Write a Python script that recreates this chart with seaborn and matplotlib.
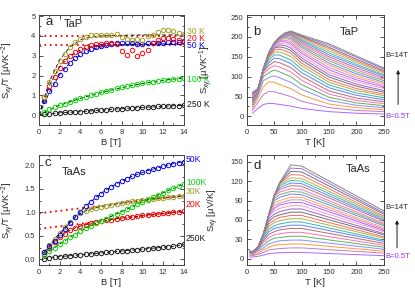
#!/usr/bin/env python3
"""Nernst signal of TaP / TaAs: S_xy/T vs B (a, c) and S_xy vs T (b, d)."""

import matplotlib

matplotlib.use("Agg")
import matplotlib.pyplot as plt
import pandas as pd
import seaborn as sns
from matplotlib.ticker import FormatStrFormatter, MultipleLocator

# field points for the scatter panels and the field list of the T sweeps
FIELDS = [0.5, 1.0, 1.5, 2.0, 2.5, 3.0, 3.5, 4.0, 4.5, 5.0, 5.5, 6.0, 6.5, 7.0,
          7.5, 8.0, 8.5, 9.0, 9.5, 10.0, 10.5, 11.0, 11.5, 12.0, 12.5, 13.0, 13.5, 14.0]

# ---- panel a: TaP, S_xy/T [uV K^-2]
TAP_250K = [0.05, 0.08, 0.10, 0.12, 0.14, 0.15, 0.17, 0.18, 0.20, 0.22, 0.24, 0.26, 0.28, 0.30,
            0.31, 0.33, 0.35, 0.36, 0.38, 0.39, 0.41, 0.42, 0.44, 0.45, 0.47, 0.48, 0.49, 0.50]
TAP_100K = [0.15, 0.30, 0.40, 0.50, 0.58, 0.66, 0.76, 0.85, 0.93, 1.00, 1.08, 1.15, 1.22, 1.28,
            1.35, 1.42, 1.47, 1.52, 1.57, 1.62, 1.66, 1.70, 1.74, 1.77, 1.80, 1.82, 1.85, 1.87]
TAP_50K = [0.70, 1.20, 1.60, 2.05, 2.35, 2.65, 2.90, 3.10, 3.25, 3.35, 3.42, 3.50, 3.55, 3.60,
           3.62, 3.62, 3.63, 3.62, 3.60, 3.60, 3.62, 3.62, 3.63, 3.65, 3.68, 3.70, 3.70, 3.72]
TAP_20K = [0.90, 1.45, 1.95, 2.40, 2.75, 3.00, 3.20, 3.35, 3.45, 3.55, 3.60, 3.60, 3.62, 3.65,
           3.60, 3.25, 3.05, 3.30, 3.00, 3.15, 3.30, 3.65, 3.80, 3.90, 3.90, 3.85, 3.80, 3.70]
TAP_30K = [0.90, 1.70, 2.25, 2.75, 3.10, 3.45, 3.70, 3.85, 3.95, 4.05, 4.05, 4.05, 4.05, 4.05,
           4.10, 3.95, 3.85, 3.80, 3.85, 3.80, 4.00, 4.05, 4.20, 4.30, 4.30, 4.25, 4.15, 4.10]

B_FIT = [0, 1, 2, 3, 4, 5, 6, 7, 8, 9, 10, 11, 12, 13, 14]
FIT_30K = [0, 1.70, 2.80, 3.45, 3.80, 3.95, 4.00, 4.02, 4.03, 4.04, 4.05, 4.05, 4.05, 4.05, 4.05]
FIT_20K = [0, 1.50, 2.45, 3.00, 3.30, 3.45, 3.52, 3.55, 3.56, 3.57, 3.57, 3.57, 3.57, 3.57, 3.57]
FIT_50K = [0, 1.15, 2.05, 2.65, 3.05, 3.30, 3.45, 3.53, 3.57, 3.58, 3.60, 3.60, 3.60, 3.60, 3.60]
FIT_100K = [0, 0.28, 0.50, 0.68, 0.85, 1.00, 1.14, 1.27, 1.39, 1.50, 1.60, 1.68, 1.76, 1.82, 1.87]
FIT_250K = [0, 0.07, 0.12, 0.15, 0.18, 0.22, 0.26, 0.30, 0.33, 0.36, 0.39, 0.42, 0.45, 0.48, 0.50]
TAP_SAT = [4.02, 3.55]          # red dotted saturation levels

# ---- panel c: TaAs, S_xy/T [uV K^-2]
TAAS_50K = [0.15, 0.28, 0.40, 0.53, 0.65, 0.78, 0.90, 1.02, 1.13, 1.23, 1.32, 1.40, 1.48, 1.55,
            1.61, 1.67, 1.72, 1.77, 1.81, 1.85, 1.89, 1.92, 1.95, 1.98, 2.01, 2.04, 2.06, 2.08]
TAAS_100K = [0.10, 0.17, 0.25, 0.33, 0.40, 0.47, 0.53, 0.60, 0.66, 0.72, 0.77, 0.82, 0.87, 0.92,
             0.97, 1.02, 1.07, 1.12, 1.17, 1.22, 1.27, 1.32, 1.37, 1.42, 1.47, 1.51, 1.56, 1.60]
TAAS_30K = [0.15, 0.30, 0.43, 0.56, 0.68, 0.80, 0.90, 0.98, 1.03, 1.07, 1.10, 1.12, 1.14, 1.16,
            1.18, 1.20, 1.22, 1.24, 1.25, 1.27, 1.28, 1.29, 1.30, 1.31, 1.32, 1.33, 1.34, 1.35]
TAAS_20K = [0.12, 0.25, 0.37, 0.47, 0.55, 0.62, 0.67, 0.71, 0.74, 0.77, 0.79, 0.81, 0.83, 0.85,
            0.87, 0.88, 0.90, 0.91, 0.92, 0.94, 0.95, 0.96, 0.97, 0.98, 0.99, 1.00, 1.01, 1.03]
TAAS_250K = [0.02, 0.04, 0.05, 0.06, 0.07, 0.08, 0.09, 0.10, 0.11, 0.12, 0.13, 0.14, 0.15, 0.16,
             0.17, 0.18, 0.19, 0.20, 0.21, 0.22, 0.23, 0.24, 0.25, 0.26, 0.27, 0.28, 0.30, 0.32]
TAAS_LIN_B = [0, 14]
TAAS_LIN_30K = [0.98, 1.36]     # red dotted linear asymptotes
TAAS_LIN_20K = [0.65, 1.03]

# ---- panel b: TaP, S_xy [uV/K] vs T, one list per temperature (B = 0.5 ... 14 T)
T_TAP = [10, 20, 30, 40, 50, 60, 70, 80, 100, 150, 200, 250]
TAP_SXY = [
    [8, 15, 20, 25, 30, 34, 37, 40, 42, 44, 46, 48, 49, 50, 51, 52, 53, 54, 55, 55, 56, 56, 57, 57, 58, 58, 59, 60],
    [20, 35, 45, 52, 57, 60, 62, 63, 64, 65, 65, 65, 66, 66, 66, 67, 67, 67, 67, 68, 68, 68, 68, 69, 69, 69, 69, 70],
    [30, 55, 75, 90, 100, 107, 112, 115, 117, 118, 119, 119, 120, 120, 120, 120, 120, 120, 120, 120, 120, 120, 120, 120, 120, 120, 120, 120],
    [33, 63, 87, 98, 110, 120, 128, 135, 141, 146, 150, 153, 155, 157, 158, 159, 159, 160, 160, 160, 160, 160, 160, 160, 160, 160, 160, 160],
    [32, 62, 86, 102, 117, 128, 138, 147, 155, 162, 167, 172, 175, 178, 180, 181, 182, 183, 183, 184, 184, 185, 185, 185, 185, 185, 185, 185],
    [30, 58, 80, 97, 112, 124, 135, 145, 154, 162, 169, 175, 180, 184, 188, 191, 193, 195, 196, 197, 198, 199, 199, 200, 200, 200, 200, 200],
    [28, 54, 75, 91, 106, 118, 129, 139, 148, 157, 165, 172, 178, 183, 188, 192, 196, 199, 202, 204, 206, 207, 208, 209, 209, 210, 210, 210],
    [26, 50, 70, 86, 100, 112, 123, 133, 142, 151, 159, 166, 172, 178, 183, 188, 192, 196, 200, 203, 206, 208, 210, 211, 212, 213, 214, 215],
    [20, 38, 54, 68, 80, 91, 101, 110, 119, 127, 134, 141, 147, 153, 159, 164, 169, 174, 178, 182, 186, 190, 193, 196, 199, 201, 203, 205],
    [12, 22, 31, 40, 48, 56, 64, 72, 79, 86, 92, 99, 105, 111, 117, 123, 129, 134, 140, 145, 150, 155, 160, 165, 170, 174, 179, 183],
    [8, 15, 22, 28, 34, 40, 46, 53, 59, 65, 70, 76, 81, 87, 92, 97, 102, 107, 112, 117, 122, 127, 131, 136, 140, 144, 149, 152],
    [6, 12, 17, 22, 27, 32, 37, 42, 47, 52, 56, 61, 65, 70, 74, 78, 82, 86, 90, 94, 98, 102, 105, 109, 112, 115, 119, 122],
]

# ---- panel d: TaAs, S_xy [uV/K] vs T
T_TAAS = [5, 10, 20, 30, 40, 50, 60, 80, 100, 250]
TAAS_SXY = [
    [3, 5, 7, 9, 10, 11, 11, 11, 11, 11, 11, 11, 11, 11, 11, 11, 11, 11, 11, 11, 11, 12, 12, 12, 12, 12, 12, 12],
    [3, 5, 6, 7, 8, 8, 9, 9, 9, 9, 9, 10, 10, 10, 10, 10, 10, 10, 10, 10, 10, 10, 11, 11, 11, 11, 11, 11],
    [4, 7, 9, 12, 14, 15, 16, 16, 17, 17, 17, 17, 17, 17, 17, 17, 17, 17, 17, 18, 18, 18, 18, 18, 18, 18, 18, 18],
    [6, 10, 14, 17, 21, 25, 28, 31, 34, 36, 37, 38, 38, 38, 38, 38, 38, 38, 38, 38, 38, 38, 38, 38, 38, 38, 38, 38],
    [8, 14, 18, 23, 28, 33, 38, 42, 46, 50, 54, 58, 62, 65, 67, 68, 68, 68, 68, 68, 68, 68, 68, 68, 68, 68, 68, 68],
    [9, 15, 21, 26, 32, 37, 42, 47, 51, 56, 60, 65, 69, 74, 78, 82, 86, 90, 93, 96, 98, 98, 98, 98, 98, 98, 98, 98],
    [9.5, 16, 22, 28, 33, 39, 45, 49, 54, 59, 64, 68, 73, 78, 83, 86, 90, 95, 99, 103, 107, 110, 113, 115, 116, 117, 118, 118],
    [10, 17, 23, 29, 35, 41, 47, 52, 57, 62, 67, 72, 77, 82, 87, 91, 95, 100, 104, 108, 113, 117, 121, 125, 130, 135, 140, 145],
    [10, 17, 23, 29, 35, 41, 47, 52, 57, 62, 67, 72, 77, 82, 87, 91, 95, 99, 103, 107, 112, 116, 120, 124, 129, 134, 139, 143],
    [5, 9, 12, 15, 18, 21, 24, 27, 29, 32, 34, 37, 39, 42, 44, 46, 48, 51, 53, 55, 58, 60, 62, 64, 66, 69, 71, 74],
]

# one colour per field, 0.5 T (bottom) ... 14 T (top)
CURVE_COLORS = [
    "#b266ff", "#c47cc4", "#ff9a3c", "#8c8cff", "#5fb25f", "#ff6eb4", "#b86b6b",
    "#5f7fff", "#33b8b8", "#b0b040", "#ff6666", "#707070", "#9966cc", "#ff99cc",
    "#b266ff", "#d08ad0", "#ffa64d", "#7f7fff", "#66bb66", "#ff70c0", "#c07070",
    "#6688ff", "#44bbbb", "#b8b84a", "#ff7070", "#777777", "#a070d0", "#888888",
]

OLIVE = "#a0a020"
RED = "#ff0000"
BLUE = "#0000ff"
GREEN = "#00dd00"
VIOLET = "#9933ff"

TICK_SIZE = 5.5
LABEL_SIZE = 6.8
NOTE_SIZE = 6.2


def setup_style() -> None:
    sns.set_theme(style="ticks")
    plt.rcParams["font.family"] = ["Liberation Sans", "DejaVu Sans"]
    plt.rcParams["font.size"] = TICK_SIZE
    plt.rcParams["axes.labelsize"] = LABEL_SIZE
    plt.rcParams["xtick.labelsize"] = TICK_SIZE
    plt.rcParams["ytick.labelsize"] = TICK_SIZE
    plt.rcParams["axes.linewidth"] = 0.7
    plt.rcParams["mathtext.default"] = "regular"


def style_axes(ax, xmaj, xmin, ymaj, ymin) -> None:
    ax.xaxis.set_major_locator(MultipleLocator(xmaj))
    ax.xaxis.set_minor_locator(MultipleLocator(xmin))
    ax.yaxis.set_major_locator(MultipleLocator(ymaj))
    ax.yaxis.set_minor_locator(MultipleLocator(ymin))
    ax.tick_params(which="both", direction="in", top=True, right=True,
                   labelsize=TICK_SIZE, width=0.6, pad=2.5, colors="#333333")
    ax.tick_params(which="major", length=3)
    ax.tick_params(which="minor", length=1.6)
    for sp in ax.spines.values():
        sp.set_color("#444444")


def circles(ax, x, y, color) -> None:
    sns.lineplot(x=x, y=y, ax=ax, color=color, linestyle="none", marker="o",
                 markersize=3.2, markerfacecolor="none", markeredgecolor=color,
                 markeredgewidth=0.7, estimator=None, sort=False)


def fit_line(ax, x, y, color="k", dots=False) -> None:
    ls = (0, (1, 2)) if dots else (0, (4, 2.5))
    lw = 1.3 if dots else 0.7
    sns.lineplot(x=x, y=y, ax=ax, color=color, linestyle=ls, linewidth=lw,
                 estimator=None, sort=False)


def sweep_frame(temps, table) -> pd.DataFrame:
    rows = []
    for j, t in enumerate(temps):
        for i, b in enumerate(FIELDS):
            rows.append({"T": t, "B": b, "S": table[j][i]})
    return pd.DataFrame(rows)


def plot_sweeps(ax, temps, table) -> None:
    df = sweep_frame(temps, table)
    sns.lineplot(data=df, x="T", y="S", hue="B", palette=CURVE_COLORS, ax=ax,
                 legend=False, linewidth=0.7, estimator=None, sort=True)


def side_labels(ax, x, items) -> None:
    for txt, y, c in items:
        ax.text(x, y, txt, color=c, fontsize=NOTE_SIZE, va="center", clip_on=False)


def main() -> None:
    setup_style()
    fig = plt.figure(figsize=(4.15, 2.91), dpi=100)
    ax_a = fig.add_axes([0.094, 0.570, 0.349, 0.378])
    ax_b = fig.add_axes([0.595, 0.570, 0.330, 0.378])
    ax_c = fig.add_axes([0.094, 0.089, 0.349, 0.378])
    ax_d = fig.add_axes([0.595, 0.089, 0.330, 0.378])

    # ---- a
    ax = ax_a
    for lvl in TAP_SAT:
        fit_line(ax, [0, 14], [lvl, lvl], color=RED, dots=True)
    for fit in (FIT_30K, FIT_20K, FIT_50K, FIT_100K, FIT_250K):
        fit_line(ax, B_FIT, fit)
    circles(ax, FIELDS, TAP_250K, "k")
    circles(ax, FIELDS, TAP_100K, GREEN)
    circles(ax, FIELDS, TAP_50K, BLUE)
    circles(ax, FIELDS, TAP_20K, RED)
    circles(ax, FIELDS, TAP_30K, OLIVE)
    ax.set_xlim(0, 14)
    ax.set_ylim(-0.5, 5.05)
    style_axes(ax, 2, 1, 1, 0.5)
    ax.set_xlabel("B [T]", labelpad=2)
    ax.set_ylabel("S$_{xy}$/T [μVK$^{-2}$]")
    ax.yaxis.set_label_coords(-0.15, 0.5)
    ax.text(0.6, 4.55, "a", fontsize=9.5)
    ax.text(2.4, 4.45, "TaP", fontsize=8)
    side_labels(ax, 14.3, (("30 K", 4.24, OLIVE), ("20 K", 3.89, RED), ("50 K", 3.50, BLUE),
                           ("100 K", 1.82, GREEN), ("250 K", 0.56, "k")))

    # ---- c
    ax = ax_c
    fit_line(ax, TAAS_LIN_B, TAAS_LIN_30K, color=RED, dots=True)
    fit_line(ax, TAAS_LIN_B, TAAS_LIN_20K, color=RED, dots=True)
    for series in (TAAS_50K, TAAS_100K, TAAS_30K, TAAS_20K, TAAS_250K):
        fit_line(ax, FIELDS, series)
    circles(ax, FIELDS, TAAS_250K, "k")
    circles(ax, FIELDS, TAAS_20K, RED)
    circles(ax, FIELDS, TAAS_30K, OLIVE)
    circles(ax, FIELDS, TAAS_100K, GREEN)
    circles(ax, FIELDS, TAAS_50K, BLUE)
    ax.set_xlim(0, 14)
    ax.set_ylim(-0.12, 2.22)
    style_axes(ax, 2, 1, 0.5, 0.25)
    ax.yaxis.set_major_formatter(FormatStrFormatter("%.1f"))
    ax.set_xlabel("B [T]", labelpad=2)
    ax.set_ylabel("S$_{xy}$/T [μVK$^{-2}$]")
    ax.yaxis.set_label_coords(-0.15, 0.5)
    ax.text(0.5, 1.98, "c", fontsize=9.5)
    ax.text(2.2, 1.8, "TaAs", fontsize=8)
    side_labels(ax, 14.2, (("50K", 2.13, BLUE), ("100K", 1.64, GREEN), ("30K", 1.45, OLIVE),
                           ("20K", 1.16, RED), ("250K", 0.44, "k")))

    # ---- b
    ax = ax_b
    plot_sweeps(ax, T_TAP, TAP_SXY)
    ax.set_xlim(0, 250)
    ax.set_ylim(-22, 255)
    style_axes(ax, 50, 25, 50, 25)
    ax.set_xlabel("T [K]", labelpad=2)
    ax.set_ylabel("S$_{xy}$ [μVK$^{-1}$]")
    ax.yaxis.set_label_coords(-0.235, 0.5)
    ax.text(12, 205, "b", fontsize=9.5)
    ax.text(170, 205, "TaP", fontsize=8)
    ax.text(253, 154, "B=14T", fontsize=5.5, va="center", clip_on=False)
    ax.text(253, 0, "B=0.5T", fontsize=5.5, color=VIOLET, va="center", clip_on=False)
    ax.annotate("", xy=(276, 124), xytext=(276, 23), annotation_clip=False,
                arrowprops=dict(arrowstyle="-|>", color="k", lw=0.7, mutation_scale=5))

    # ---- d
    ax = ax_d
    plot_sweeps(ax, T_TAAS, TAAS_SXY)
    ax.set_xlim(0, 250)
    ax.set_ylim(-9.5, 160)
    style_axes(ax, 50, 25, 30, 15)
    ax.set_xlabel("T [K]", labelpad=2)
    ax.set_ylabel("S$_{xy}$ [μV/K]")
    ax.yaxis.set_label_coords(-0.19, 0.5)
    ax.text(12, 138, "d", fontsize=9.5)
    ax.text(180, 134, "TaAs", fontsize=8)
    ax.text(253, 79, "B=14T", fontsize=5.5, va="center", clip_on=False)
    ax.text(253, 4, "B=0.5T", fontsize=5.5, color=VIOLET, va="center", clip_on=False)
    ax.annotate("", xy=(274, 64), xytext=(274, 13), annotation_clip=False,
                arrowprops=dict(arrowstyle="-|>", color="k", lw=0.7, mutation_scale=5))

    fig.savefig("out.png", dpi=100)
    plt.close(fig)


if __name__ == "__main__":
    main()
